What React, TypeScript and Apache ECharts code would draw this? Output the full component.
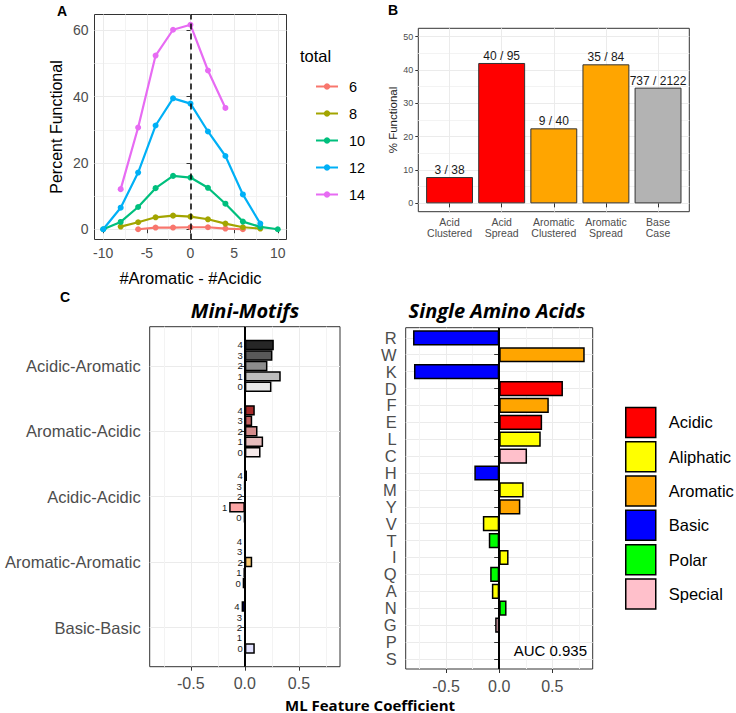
import React, { useEffect, useRef } from "react";
import * as echarts from "echarts";

const FONT = "'Liberation Sans', Arial, sans-serif";
const TITLE_FONT = "'Open Sans', Lato, sans-serif";

// ---------- Panel A ----------
const aX = [-10, -8, -6, -4, -2, 0, 2, 4, 6, 8, 10];
const total6 = [null, null, 0, 0.5, 0.5, 0.6, 0.6, 0.2, 0, null, null];
const total8 = [null, 0.8, 2.1, 3.6, 4.1, 3.8, 3.0, 1.7, 0.6, 0.2, null];
const total10 = [0, 2.2, 6.7, 12.4, 16.1, 15.6, 12.5, 7.7, 2.3, 0.7, 0];
const total12 = [0, 6.5, 17.1, 31.3, 39.5, 37.9, 29.5, 22.1, 10.5, 1.7, null];
const total14 = [null, 12.1, 30.7, 52.4, 60.2, 61.7, 47.9, 36.6, null, null, null];
const totalNames = ["6", "8", "10", "12", "14"];
const totalSeries = [total6, total8, total10, total12, total14];
const totalColors = ["#F8766D", "#A3A500", "#00BF7D", "#00B0F6", "#E76BF3"];
const aXTicks = [-10, -5, 0, 5, 10];
const aXMinor = [-7.5, -2.5, 2.5, 7.5];
const aYTicks = [0, 20, 40, 60];
const aYMinor = [10, 30, 50];

// ---------- Panel B ----------
const bCats = ["Acid\nClustered", "Acid\nSpread", "Aromatic\nClustered", "Aromatic\nSpread", "Base\nCase"];
const bPct = [7.9, 42.1, 22.5, 41.7, 34.7];
const bLabels = ["3 / 38", "40 / 95", "9 / 40", "35 / 84", "737 / 2122"];
const bColors = ["#FF0000", "#FF0000", "#FFA500", "#FFA500", "#B3B3B3"];
const bYTicks = [0, 10, 20, 30, 40, 50];
const bYMinor = [5, 15, 25, 35, 45];

// ---------- Panel C: Mini-Motifs ----------
const motifs = ["Acidic-Aromatic", "Aromatic-Acidic", "Acidic-Acidic", "Aromatic-Aromatic", "Basic-Basic"];
const gapNames = ["4", "3", "2", "1", "0"];
const gap4 = [0.268, 0.092, 0.02, 0.0, -0.03];
const gap3 = [0.255, 0.068, -0.004, 0.004, 0];
const gap2 = [0.209, 0.117, 0.002, 0.068, 0];
const gap1 = [0.332, 0.169, -0.145, -0.012, 0];
const gap0 = [0.246, 0.145, -0.008, -0.02, 0.092];
const gapValues = [gap4, gap3, gap2, gap1, gap0];
const motifColors = [
  ["#262626", "#595959", "#8C8C8C", "#BDBDBD", "#E8E8E8"],
  ["#A52A2A", "#C25E5E", "#D48C8C", "#E6BCBC", "#F6EAEA"],
  ["#FF0000", "#FF4D4D", "#FF8080", "#FCA5A5", "#FFE0E0"],
  ["#FFA500", "#FFB733", "#F7C66E", "#FFDDA0", "#FFF0D8"],
  ["#0000FF", "#4040FF", "#8080FF", "#B0B0FF", "#E2E2FF"],
];

// ---------- Panel C: Single Amino Acids ----------
const aminoAcids = ["R", "W", "K", "D", "F", "E", "L", "C", "H", "M", "Y", "V", "T", "I", "Q", "A", "N", "G", "P", "S"];
const aaCoef = [-0.811, 0.805, -0.802, 0.6, 0.467, 0.404, 0.391, 0.262, -0.234, 0.23, 0.199, -0.154, -0.098, 0.088, -0.085, -0.069, 0.069, -0.038, 0, 0];
const aaClass = ["Basic", "Aromatic", "Basic", "Acidic", "Aromatic", "Acidic", "Aliphatic", "Special", "Basic", "Aliphatic", "Aromatic", "Aliphatic", "Polar", "Aliphatic", "Polar", "Aliphatic", "Polar", "Special", "Special", "Polar"];
const classes = ["Acidic", "Aliphatic", "Aromatic", "Basic", "Polar", "Special"];
const classColors = ["#FF0000", "#FFFF00", "#FFA500", "#0000FF", "#00FF00", "#FFC0CB"];
const cXTicks = [-0.5, 0, 0.5];
const cXMinor = [-0.75, -0.25, 0.25, 0.75];

const GRID_LINE = "#EBEBEB";
const MINOR_LINE = "#F3F3F3";
const TICK = { show: true, length: 4, lineStyle: { color: "#333", width: 1 } };
const AXIS_TEXT = "#4D4D4D";

function minorAxis(gridIndex: number, min: number, max: number, values: number[]) {
  return {
    type: "value",
    gridIndex,
    min,
    max,
    axisLine: { show: false },
    axisTick: { show: false, customValues: values },
    axisLabel: { show: false, customValues: values },
    splitLine: { show: true, lineStyle: { color: MINOR_LINE, width: 1 } },
  };
}

function hiddenValue(gridIndex: number, min: number, max: number) {
  return {
    type: "value",
    gridIndex,
    min,
    max,
    axisLine: { show: false },
    axisTick: { show: false },
    axisLabel: { show: false },
    splitLine: { show: false },
  };
}

function cMajorX(gridIndex: number) {
  return {
    type: "value",
    gridIndex,
    min: -0.88,
    max: 0.88,
    splitNumber: 3,
    axisLine: { show: false },
    axisTick: { ...TICK, customValues: cXTicks },
    axisLabel: {
      customValues: cXTicks,
      fontSize: 16,
      lineHeight: 16,
      color: AXIS_TEXT,
      margin: 9,
      formatter: (v: number) => v.toFixed(1),
    },
    splitLine: { show: true, lineStyle: { color: GRID_LINE, width: 1 } },
  };
}

const C_XMIN = -0.88;
const C_XMAX = 0.88;

function buildOption() {
  const series: any[] = [];

  // Panel A lines
  totalSeries.forEach((vals, i) => {
    const pts: number[][] = [];
    vals.forEach((v, j) => {
      if (v !== null) pts.push([aX[j], v as number]);
    });
    series.push({
      type: "line",
      name: totalNames[i],
      xAxisIndex: 0,
      yAxisIndex: 0,
      data: pts,
      symbol: "circle",
      symbolSize: 6,
      lineStyle: { width: 2.2, color: totalColors[i] },
      itemStyle: { color: totalColors[i] },
      z: 3,
      markLine:
        i === totalSeries.length - 1
          ? {
              silent: true,
              symbol: "none",
              label: { show: false },
              lineStyle: { color: "#000", width: 1.5, type: [6, 4] },
              data: [{ xAxis: 0 }],
            }
          : undefined,
    });
  });

  // Panel B bars
  series.push({
    type: "bar",
    name: "pctFunctional",
    xAxisIndex: 3,
    yAxisIndex: 4,
    data: bPct.map((v, i) => ({ value: v, itemStyle: { color: bColors[i] } })),
    barWidth: "90%",
    itemStyle: { borderColor: "#333", borderWidth: 1 },
    label: {
      show: true,
      position: "top",
      distance: 1,
      fontSize: 12,
      color: "#1A1A1A",
      fontFamily: FONT,
      formatter: (p: any) => bLabels[p.dataIndex],
    },
  });

  // Zero line, mini-motifs
  series.push({
    type: "line",
    name: "zero1",
    xAxisIndex: 4,
    yAxisIndex: 5,
    data: [],
    z: 10,
    markLine: {
      silent: true,
      symbol: "none",
      label: { show: false },
      lineStyle: { color: "#000", width: 2, type: "solid" },
      data: [{ xAxis: 0 }],
    },
  });

  // Mini-motif bars
  gapNames.forEach((g, gi) => {
    series.push({
      type: "bar",
      name: "gap" + g,
      xAxisIndex: 6,
      yAxisIndex: 6,
      data: gapValues[gi].map((v, mi) => ({ value: v, itemStyle: { color: motifColors[mi][gi] } })),
      barGap: "0%",
      barCategoryGap: "20%",
      itemStyle: { borderColor: "#000", borderWidth: 1.5 },
      label: {
        show: true,
        position: "left",
        distance: 2,
        fontSize: 9.5,
        color: "#1A1A1A",
        fontFamily: FONT,
        formatter: () => g,
      },
    });
  });

  // Zero line, single amino acids
  series.push({
    type: "line",
    name: "zero2",
    xAxisIndex: 7,
    yAxisIndex: 7,
    data: [],
    z: 10,
    markLine: {
      silent: true,
      symbol: "none",
      label: { show: false },
      lineStyle: { color: "#000", width: 2, type: "solid" },
      data: [{ xAxis: 0 }],
    },
  });

  // Single amino acid bars (one series per class, overlapped)
  classes.forEach((cls, ci) => {
    series.push({
      type: "bar",
      name: cls,
      xAxisIndex: 9,
      yAxisIndex: 8,
      data: aaCoef.map((v, i) => (aaClass[i] === cls ? v : null)),
      barWidth: "90%",
      barGap: "-100%",
      itemStyle: { color: classColors[ci], borderColor: "#000", borderWidth: 1.5 },
    });
  });

  const txt = (x: number, y: number, text: string, extra: any) => ({
    type: "text",
    x,
    y,
    z: 100,
    style: { text, fill: "#000", fontFamily: FONT, align: "center", verticalAlign: "middle", ...extra },
  });

  return {
    animation: false,
    backgroundColor: "#FFFFFF",
    textStyle: { fontFamily: FONT },
    grid: [
      { left: 94.5, top: 14.5, width: 192, height: 225, show: true, borderColor: "#333", borderWidth: 1, backgroundColor: "transparent" },
      { left: 418.3, top: 28.3, width: 271, height: 183.4, show: true, borderColor: "#333", borderWidth: 1, backgroundColor: "transparent" },
      { left: 423.5, top: 28.3, width: 260.6, height: 183.4, show: false },
      { left: 149.7, top: 326.7, width: 190.3, height: 340, show: true, borderColor: "#333", borderWidth: 1, backgroundColor: "transparent" },
      { left: 149.7, top: 333.2, width: 190.3, height: 327, show: false },
      { left: 405.7, top: 327.7, width: 187, height: 341.3, show: true, borderColor: "#333", borderWidth: 1, backgroundColor: "transparent" },
      { left: 405.7, top: 329.4, width: 187, height: 337.9, show: false },
    ],
    xAxis: [
      {
        type: "value",
        gridIndex: 0,
        min: -11,
        max: 11,
        splitNumber: 4,
        axisLine: { show: false },
        axisTick: { ...TICK, customValues: aXTicks },
        axisLabel: { customValues: aXTicks, fontSize: 14, color: AXIS_TEXT, margin: 6 },
        splitLine: { show: true, lineStyle: { color: GRID_LINE, width: 1 } },
        name: "#Aromatic - #Acidic",
        nameLocation: "middle",
        nameGap: 30,
        nameTextStyle: { fontSize: 16.5, color: "#000", fontFamily: FONT },
      },
      minorAxis(0, -11, 11, aXMinor),
      hiddenValue(1, 0, 1),
      {
        type: "category",
        gridIndex: 2,
        data: bCats,
        axisLine: { show: false },
        axisTick: { ...TICK, alignWithLabel: true },
        axisLabel: { fontSize: 10.5, lineHeight: 11, color: AXIS_TEXT, margin: 5, interval: 0 },
        splitLine: { show: true, alignWithLabel: true, lineStyle: { color: GRID_LINE, width: 1 } },
      },
      cMajorX(3),
      minorAxis(3, C_XMIN, C_XMAX, cXMinor),
      hiddenValue(4, C_XMIN, C_XMAX),
      cMajorX(5),
      minorAxis(5, C_XMIN, C_XMAX, cXMinor),
      hiddenValue(6, C_XMIN, C_XMAX),
    ],
    yAxis: [
      {
        type: "value",
        gridIndex: 0,
        min: -3.1,
        max: 64.8,
        splitNumber: 3,
        axisLine: { show: false },
        axisTick: { ...TICK, customValues: aYTicks },
        axisLabel: { customValues: aYTicks, fontSize: 14, color: AXIS_TEXT, margin: 6 },
        splitLine: { show: true, lineStyle: { color: GRID_LINE, width: 1 } },
        name: "Percent Functional",
        nameLocation: "middle",
        nameGap: 30,
        nameTextStyle: { fontSize: 16, color: "#000", fontFamily: FONT },
      },
      minorAxis(0, -3.1, 64.8, aYMinor),
      {
        type: "value",
        gridIndex: 1,
        min: -2.5,
        max: 52.5,
        splitNumber: 5,
        axisLine: { show: false },
        axisTick: { ...TICK, length: 3, customValues: bYTicks },
        axisLabel: { customValues: bYTicks, fontSize: 9, color: AXIS_TEXT, margin: 5 },
        splitLine: { show: true, lineStyle: { color: GRID_LINE, width: 1 } },
        name: "% Functional",
        nameLocation: "middle",
        nameGap: 19,
        nameTextStyle: { fontSize: 11.5, color: "#222", fontFamily: FONT },
      },
      minorAxis(1, -2.5, 52.5, bYMinor),
      hiddenValue(2, -2.5, 52.5),
      hiddenValue(3, 0, 1),
      {
        type: "category",
        gridIndex: 4,
        data: motifs,
        inverse: true,
        axisLine: { show: false },
        axisTick: { ...TICK, alignWithLabel: true },
        axisLabel: { fontSize: 16.5, color: AXIS_TEXT, margin: 9 },
        splitLine: { show: true, alignWithLabel: true, lineStyle: { color: GRID_LINE, width: 1 } },
      },
      hiddenValue(5, 0, 1),
      {
        type: "category",
        gridIndex: 6,
        data: aminoAcids,
        inverse: true,
        axisLine: { show: false },
        axisTick: { ...TICK, length: 5, alignWithLabel: true },
        axisLabel: { fontSize: 16.5, color: AXIS_TEXT, margin: 9, interval: 0 },
        splitLine: { show: true, alignWithLabel: true, lineStyle: { color: GRID_LINE, width: 1 } },
      },
    ],
    legend: [
      {
        data: totalNames,
        orient: "vertical",
        left: 315,
        top: 79,
        padding: 0,
        itemWidth: 22,
        itemHeight: 8,
        itemGap: 12,
        selectedMode: false,
        textStyle: { fontSize: 14.5, color: "#000", fontFamily: FONT, padding: [0, 0, 0, 6] },
      },
      {
        data: classes,
        orient: "vertical",
        left: 625,
        top: 406.7,
        padding: 0,
        itemWidth: 30,
        itemHeight: 30,
        itemGap: 2.8,
        icon: "rect",
        selectedMode: false,
        itemStyle: { borderColor: "#000", borderWidth: 1.5 },
        textStyle: { fontSize: 16.5, color: "#000", fontFamily: FONT, padding: [0, 0, 0, 8] },
      },
    ],
    graphic: [
      txt(62, 11, "A", { fontSize: 14, fontWeight: "bold" }),
      txt(393, 10, "B", { fontSize: 14, fontWeight: "bold" }),
      txt(65, 297, "C", { fontSize: 14, fontWeight: "bold" }),
      txt(300, 56, "total", { fontSize: 16.5, align: "left" }),
      txt(245, 310, "Mini-Motifs", { fontSize: 20, fontWeight: "bold", fontStyle: "italic", fontFamily: TITLE_FONT }),
      txt(497, 310, "Single Amino Acids", { fontSize: 20, fontWeight: "bold", fontStyle: "italic", fontFamily: TITLE_FONT }),
      txt(370, 704.5, "ML Feature Coefficient", { fontSize: 15, lineHeight: 15, fontWeight: "bold", fontFamily: TITLE_FONT }),
      txt(587, 650, "AUC 0.935", { fontSize: 15, align: "right" }),
    ],
    series,
  };
}

export default function App() {
  const ref = useRef<HTMLDivElement>(null);
  useEffect(() => {
    if (!ref.current) return;
    const chart = echarts.init(ref.current, null, { renderer: "svg" });
    chart.setOption(buildOption() as any);
    return () => chart.dispose();
  }, []);
  return <div ref={ref} style={{ position: "absolute", left: 0, top: 0, width: 736, height: 713 }} />;
}
